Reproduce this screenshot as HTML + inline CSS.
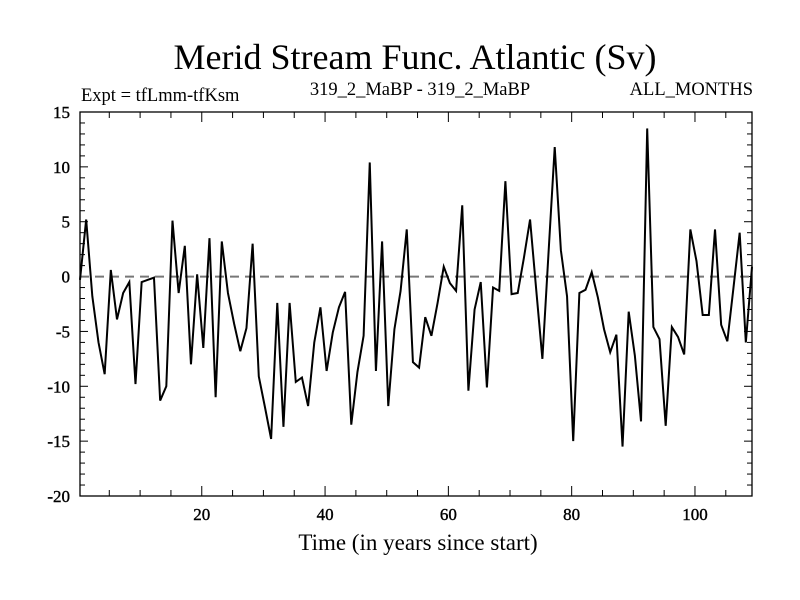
<!DOCTYPE html>
<html><head><meta charset="utf-8"><style>
html,body{margin:0;padding:0;background:#fff;}
svg{display:block;font-family:"Liberation Serif",serif;}
</style></head><body>
<svg id="chart" width="800" height="600" viewBox="0 0 800 600">
<text x="415" y="69" font-size="36" text-anchor="middle">Merid Stream Func. Atlantic (Sv)</text>
<text x="81" y="101" font-size="18.5">Expt = tfLmm-tfKsm</text>
<text x="420" y="95" font-size="18.5" text-anchor="middle">319_2_MaBP - 319_2_MaBP</text>
<text x="753" y="95" font-size="18.5" text-anchor="end">ALL_MONTHS</text>
<text x="418" y="550" font-size="23" text-anchor="middle">Time (in years since start)</text>
<g id="axes"></g>
<g id="plot"></g>
</svg>
<script>
const values = [-0.3,5.2,-1.8,-6,-8.9,0.6,-3.9,-1.5,-0.5,-9.8,-0.5,-0.3,-0.1,-11.3,-10,5.1,-1.5,2.8,-8,0.2,-6.5,3.5,-11,3.2,-1.5,-4.3,-6.8,-4.7,3,-9.1,-11.9,-14.8,-2.4,-13.7,-2.4,-9.6,-9.2,-11.8,-6,-2.8,-8.6,-5.1,-2.8,-1.4,-13.5,-8.7,-5.4,10.4,-8.6,3.2,-11.8,-4.8,-1.3,4.3,-7.8,-8.3,-3.7,-5.4,-2.4,0.9,-0.6,-1.3,6.5,-10.4,-3,-0.5,-10.1,-1,-1.3,8.7,-1.6,-1.5,1.7,5.2,-1.2,-7.5,2.2,11.8,2.4,-1.8,-15,-1.5,-1.2,0.4,-1.9,-4.8,-6.9,-5.3,-15.5,-3.2,-7.2,-13.2,13.5,-4.6,-5.7,-13.6,-4.6,-5.5,-7.1,4.3,1.4,-3.5,-3.5,4.3,-4.4,-5.9,-1,4,-6,0.9];
const xTicks = [20,40,60,80,100];
const yTicks = [15,10,5,0,-5,-10,-15,-20];
const x0 = 0.25;
const yMin = -20, yMax = 15;
const L=80,R=752,T=112,B=496;
const xMax = x0 + values.length - 1;
function xs(t){return L+(t-x0)/(xMax-x0)*(R-L);}
function ys(v){return B-(v-yMin)/(yMax-yMin)*(B-T);}
const NS="http://www.w3.org/2000/svg";
const axes=document.getElementById('axes'), plot=document.getElementById('plot');
function mk(tag,attrs,parent){const e=document.createElementNS(NS,tag);for(const k in attrs)e.setAttribute(k,attrs[k]);parent.appendChild(e);return e;}
let z=mk('line',{x1:L,x2:R,y1:ys(0),y2:ys(0),stroke:'#777','stroke-width':2,'stroke-dasharray':'9 6'},plot);


let d='';values.forEach((v,i)=>{d+=(i?'L':'M')+xs(x0+i).toFixed(2)+','+ys(v).toFixed(2);});
let p=mk('path',{d:d,fill:'none',stroke:'#000','stroke-width':2,'stroke-linejoin':'miter'},plot);


let f=mk('rect',{x:L,y:T,width:R-L,height:B-T,fill:'none',stroke:'#000','stroke-width':1.3},axes);


for(let v=yMin;v<=yMax;v++){const y=ys(v),len=(v%5===0)?8:5;
 mk('line',{x1:L,x2:L+len,y1:y,y2:y,stroke:'#000','stroke-width':1},axes);
 mk('line',{x1:R,x2:R-len,y1:y,y2:y,stroke:'#000','stroke-width':1},axes);}
yTicks.forEach(v=>{const t=mk('text',{x:70,y:ys(v)+6,'font-size':17,'text-anchor':'end',stroke:'#000','stroke-width':0.4},axes);t.textContent=v;
 
 });
for(let t=5;t<=xMax;t+=5){const x=xs(t),len=(t%20===0)?10:6;
 mk('line',{x1:x,x2:x,y1:B,y2:B-len,stroke:'#000','stroke-width':1},axes);
 mk('line',{x1:x,x2:x,y1:T,y2:T+len,stroke:'#000','stroke-width':1},axes);}
xTicks.forEach(v=>{const t=mk('text',{x:xs(v),y:520,'font-size':17,'text-anchor':'middle',stroke:'#000','stroke-width':0.4},axes);t.textContent=v;
 
 });
</script>
</body></html>
